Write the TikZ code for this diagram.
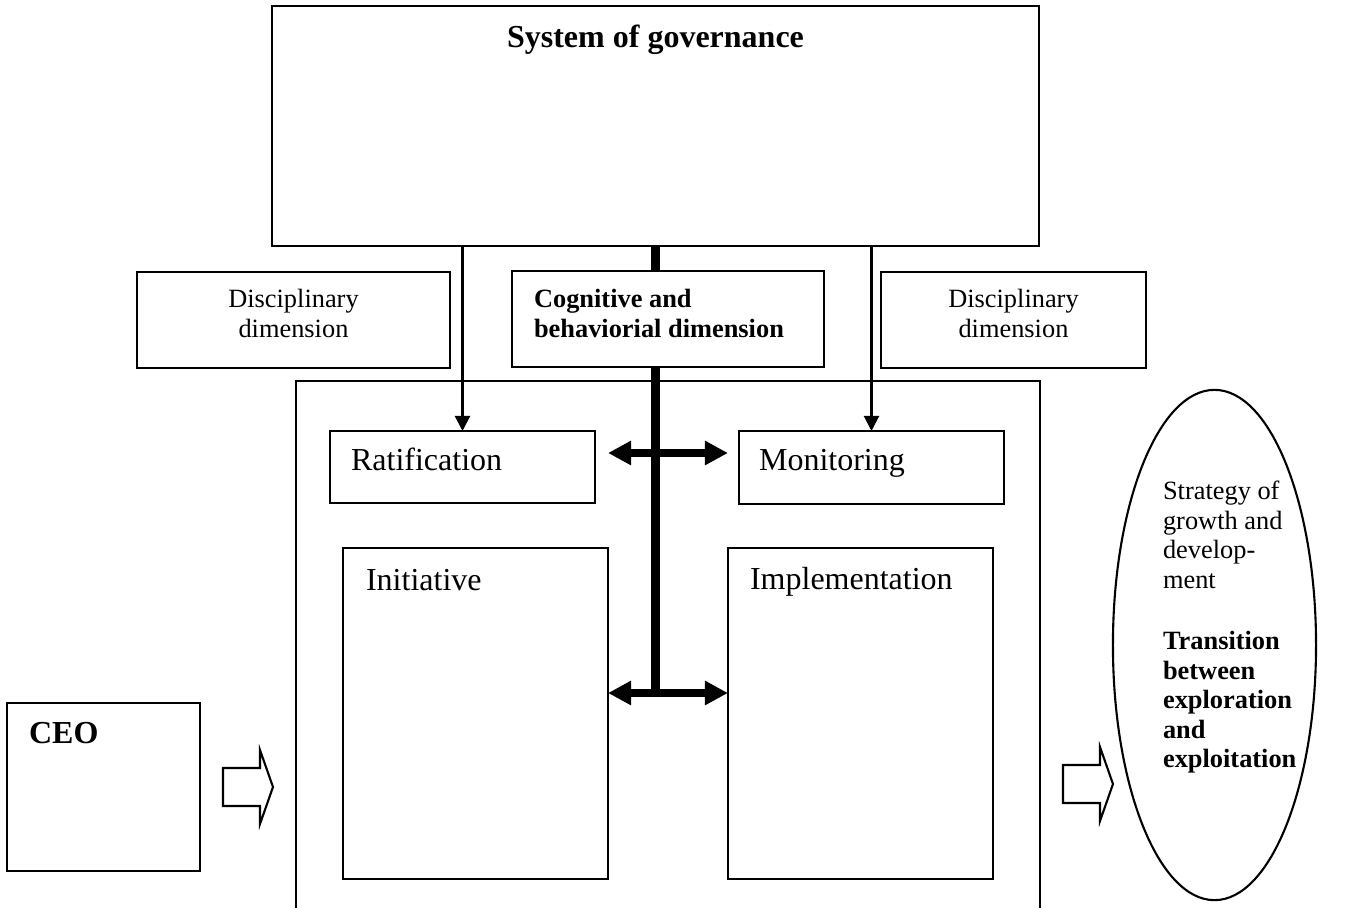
\documentclass[tikz,border=0pt]{standalone}
\usepackage{fontspec}
\setmainfont{Liberation Serif}
\usepackage{tikz}
\usetikzlibrary{arrows.meta,shapes.geometric}

\newcommand\bigsize{\fontsize{9.1pt}{10.5pt}\selectfont}
\newcommand\smallsize{\fontsize{7.5pt}{8.7pt}\selectfont}
\newcommand\ovalsize{\fontsize{7.5pt}{8.4pt}\selectfont}

\begin{document}
\begin{tikzpicture}
	[x=0.01cm,y=-0.01cm,line width=0.6pt,
	 box/.style={draw,rectangle,inner sep=0pt,outer sep=0pt},
	 txt/.style={inner sep=0pt,anchor=base west,font=\bigsize},
	 smalltxt/.style={inner sep=0pt,anchor=north,align=center,font=\smallsize},
	 thinarrow/.style={-{Triangle[length=0.15cm,width=0.15cm]}},
	 thickline/.style={line width=0.08cm},
	 thickarrow/.style={line width=0.08cm,
	   {Triangle[length=0.23cm,width=0.23cm]}-{Triangle[length=0.23cm,width=0.23cm]}}]
\useasboundingbox (0,0) rectangle (1359,908);

% governance on top
\node[box, minimum width=7.67cm, minimum height=2.40cm] (sys) at (655.5,126) {};
\node[txt, anchor=base, font=\bigsize\bfseries] (systitle) at (655.5,47) {System of governance};

% the three dimensions
\node[box, minimum width=3.13cm, minimum height=0.96cm] (discl) at (293.5,320) {};
\node[smalltxt] (discltext) at (293.5,288) {Disciplinary\\dimension};
\draw[thickline] (sys.south) -- (sys.south |- 0,271);
\node[box, fill=white, minimum width=3.12cm, minimum height=0.96cm] (cog) at (668,319) {};
\node[smalltxt, anchor=north west, align=left, font=\smallsize\bfseries] (cogtext) at (533,288)
  {Cognitive and\\behaviorial dimension};
\node[box, minimum width=2.65cm, minimum height=0.96cm] (discr) at (1013.5,320) {};
\node[smalltxt] (discrtext) at (1013.5,288) {Disciplinary\\dimension};

% board / management frame
\draw (296,908) |- (1040,381) -- (1040,908);
\node[box, minimum width=2.65cm, minimum height=0.72cm] (rat) at (462.5,467) {};
\node[txt] (rattext) at (350,470) {Ratification};
\node[box, minimum width=2.65cm, minimum height=0.73cm] (mon) at (871.5,467.5) {};
\node[txt] (montext) at (758,470) {Monitoring};
\node[box, minimum width=2.65cm, minimum height=3.31cm] (init) at (475.5,713.5) {};
\node[txt] (inittext) at (365,590) {Initiative};
\node[box, minimum width=2.65cm, minimum height=3.31cm] (impl) at (860.5,713.5) {};
\node[txt] (impltext) at (749,589) {Implementation};

% CEO and strategy
\node[box, minimum width=1.93cm, minimum height=1.68cm] (ceo) at (103.5,787) {};
\node[txt, font=\bigsize\bfseries] (ceotext) at (28,743) {CEO};
\node[draw, ellipse, inner sep=0pt, minimum width=2.03cm, minimum height=5.1cm] (strategy) at (1214.5,645) {};
\node[inner sep=0pt, anchor=north west, align=left, font=\ovalsize] (strategytext) at (1162,480)
  {Strategy of\\growth and\\develop-\\ment\\[0.32cm]
   \textbf{Transition}\\\textbf{between}\\\textbf{exploration}\\\textbf{and}\\\textbf{exploitation}};

% links
\coordinate (upper) at (655.5,453);
\coordinate (lower) at (655.5,693);
\draw[thickline] (cog.south -| sys.south) -- (lower);
\draw[thickarrow] (upper -| init.east) -- (upper -| impl.west);
\draw[thickarrow] (lower -| init.east) -- (lower -| impl.west);
\draw[thinarrow] (sys.south -| rat.north) -- (rat.north);
\draw[thinarrow] (sys.south -| mon.north) -- (mon.north);
\foreach \x/\y in {223/787,1063/784}
\draw (\x,\y) ++(0,-19) -- ++(37,0) -- ++(0,-18) -- ++(13,37) -- ++(-13,37) -- ++(0,-18) -- ++(-37,0) -- cycle;
\end{tikzpicture}
\end{document}
